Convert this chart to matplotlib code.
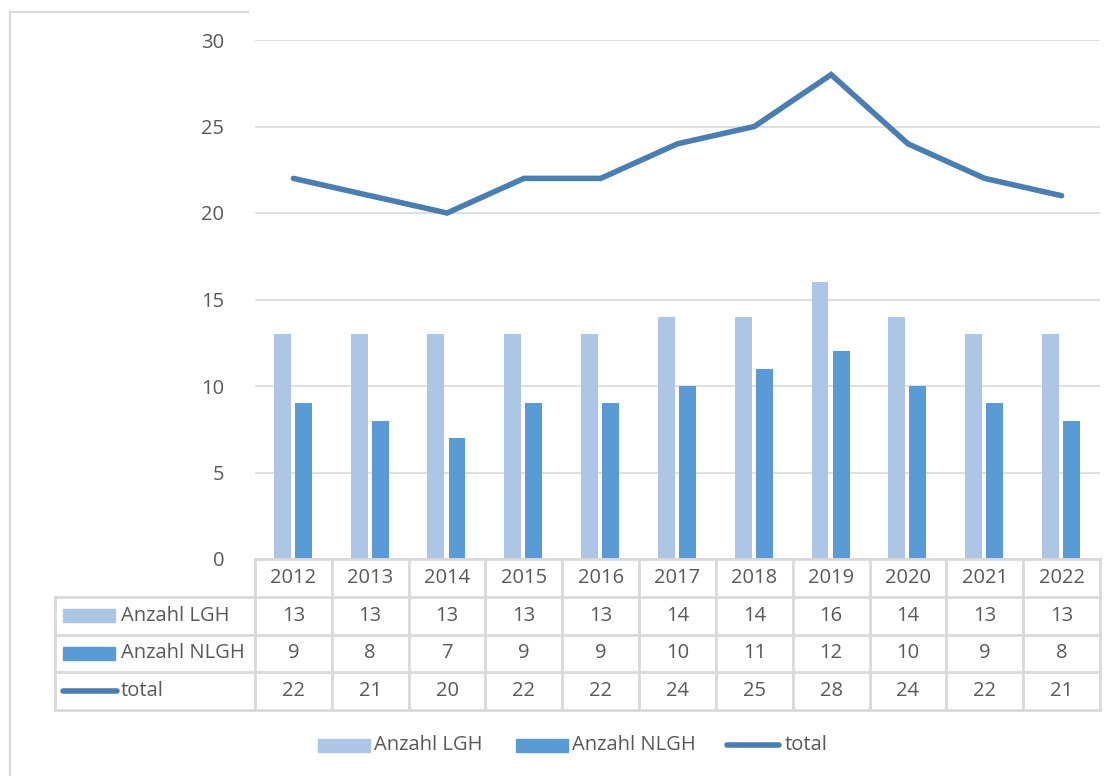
import matplotlib
matplotlib.use("Agg")
import matplotlib.pyplot as plt
from matplotlib.patches import Rectangle
from matplotlib.lines import Line2D
import numpy as np

plt.rcParams['font.family'] = ['Open Sans', 'DejaVu Sans']

years = ['2012', '2013', '2014', '2015', '2016', '2017', '2018', '2019', '2020', '2021', '2022']
lgh = [13, 13, 13, 13, 13, 14, 14, 16, 14, 13, 13]
nlgh = [9, 8, 7, 9, 9, 10, 11, 12, 10, 9, 8]
total = [22, 21, 20, 22, 22, 24, 25, 28, 24, 22, 21]
series_names = ['Anzahl LGH', 'Anzahl NLGH', 'total']

c_light = '#ADC6E6'
c_dark = '#5B9BD5'
c_line = '#4A7EB1'
c_grid = '#D9D9D9'
c_text = '#595959'
fs = 14.5

W, H = 1113, 776
fig = plt.figure(figsize=(W / 100, H / 100), dpi=100)

def fx(px):
    return px / W

def fy(py):
    return 1 - py / H

# main plot area
x0, x1 = 255, 1100
y_top, y_bot = 40, 559
ax = fig.add_axes([fx(x0), fy(y_bot), fx(x1 - x0), fy(y_top) - fy(y_bot)])
x = np.arange(len(years))
ax.bar(x - 0.145, lgh, width=0.22, color=c_light, zorder=2)
ax.bar(x + 0.13, nlgh, width=0.22, color=c_dark, zorder=2)
ax.plot(x, total, color=c_line, lw=4, solid_capstyle='round', solid_joinstyle='miter', zorder=3)
ax.set_xlim(-0.5, len(years) - 0.5)
ax.set_ylim(0, 30)
ax.set_yticks(range(0, 31, 5))
ax.yaxis.grid(True, color=c_grid, lw=1.2, zorder=0)
ax.set_xticks([])
for s in ax.spines.values():
    s.set_visible(False)
ax.tick_params(axis='y', length=0, pad=22, labelsize=fs, labelcolor=c_text)

# data table below the plot area, sharing x with the chart
row_h = 37.75
tab = fig.add_axes([fx(x0), fy(y_bot + 4 * row_h), fx(x1 - x0), fy(y_bot) - fy(y_bot + 4 * row_h)])
tab.set_xlim(-0.5, len(years) - 0.5)
tab.set_ylim(4, 0)
tab.axis('off')
cw = (x1 - x0) / len(years)
lab_left = -0.5 - (x0 - 55) / cw
lk = dict(color=c_grid, lw=2, clip_on=False, solid_capstyle='projecting')
tab.plot([-0.5, len(years) - 0.5], [0, 0], **lk)
for r in [1, 2, 3, 4]:
    tab.plot([lab_left, len(years) - 0.5], [r, r], **lk)
for i in range(len(years) + 1):
    tab.plot([i - 0.5, i - 0.5], [0, 4], **lk)
tab.plot([lab_left, lab_left], [1, 4], **lk)

rows = [lgh, nlgh, total]
for i, yr in enumerate(years):
    tab.text(i, 0.5, yr, ha='center', va='center', fontsize=fs, color=c_text)
    for r, vals in enumerate(rows):
        tab.text(i, r + 1.5, str(vals[i]), ha='center', va='center', fontsize=fs, color=c_text)

# row labels with legend keys
key_l = lab_left + 8 / cw
key_w = 52 / cw
for r, name in enumerate(series_names):
    yc = r + 1.5
    if r < 2:
        tab.add_patch(Rectangle((key_l, yc - 0.17), key_w, 0.34,
                                color=[c_light, c_dark][r], clip_on=False))
    else:
        tab.plot([key_l, key_l + key_w + 2 / cw], [yc, yc], color=c_line, lw=4,
                 solid_capstyle='round', clip_on=False)
    tab.text(lab_left + 66 / cw, yc, name, ha='left', va='center', fontsize=fs, color=c_text)

# bottom legend, placed item by item
leg_y = 745
leg_items = [(318, 374), (516, 572), (727, 785)]
for k, (kx, tx) in enumerate(leg_items):
    if k < 2:
        fig.add_artist(Rectangle((fx(kx), fy(leg_y + 6.5)), fx(52), fy(0) - fy(13),
                                 color=[c_light, c_dark][k]))
    else:
        fig.add_artist(Line2D([fx(kx), fx(kx + 52)], [fy(leg_y), fy(leg_y)],
                              color=c_line, lw=4, solid_capstyle='round'))
    fig.text(fx(tx), fy(leg_y), series_names[k], ha='left', va='center',
             fontsize=fs, color=c_text)

# outer chart frame (partially visible)
fig.add_artist(Line2D([fx(10), fx(248)], [fy(12), fy(12)], color=c_grid, lw=1.5))
fig.add_artist(Line2D([fx(10), fx(10)], [fy(12), 0], color=c_grid, lw=1.5))

fig.savefig('out.png', dpi=100)
